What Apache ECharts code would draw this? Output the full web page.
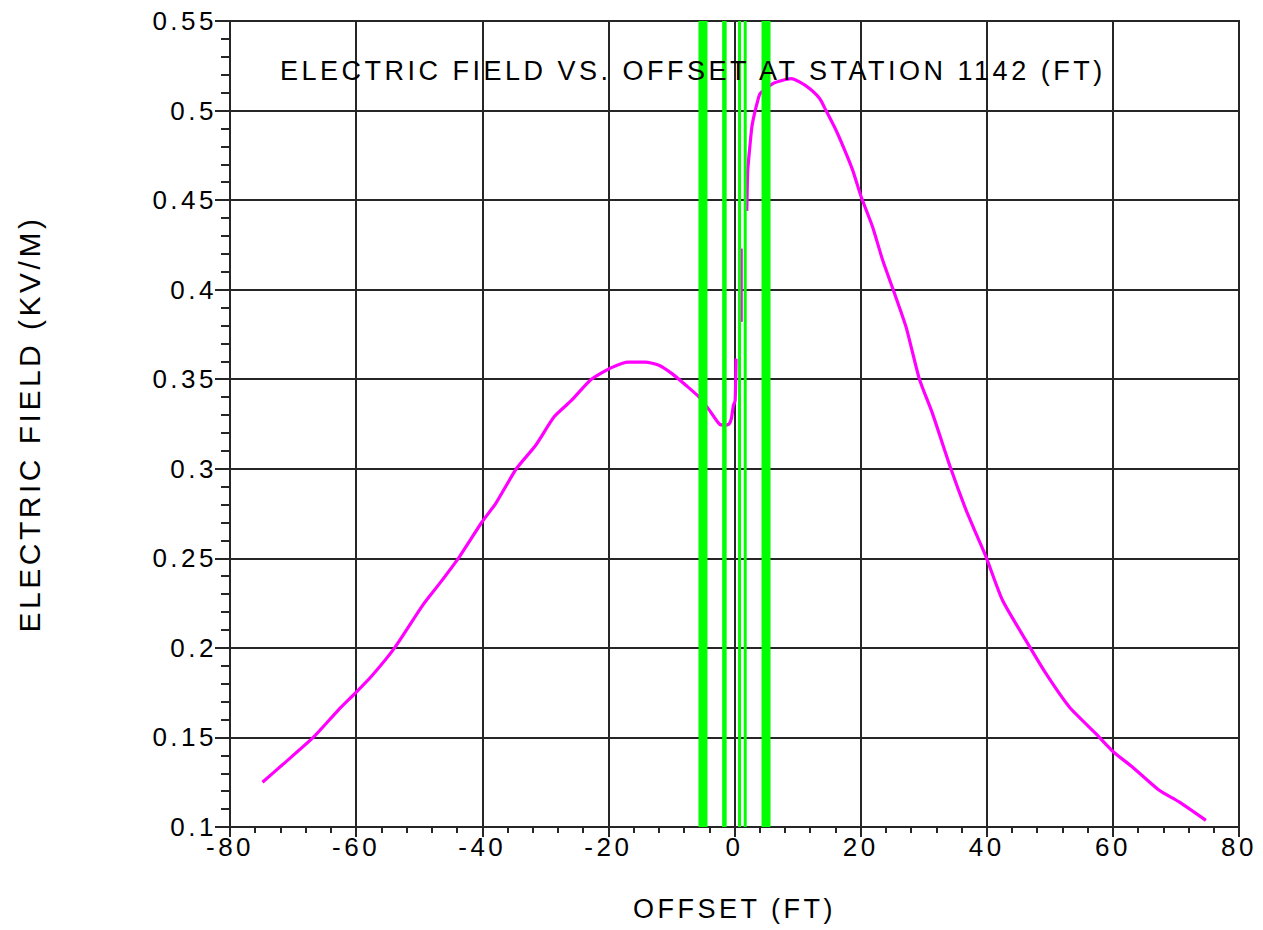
<!DOCTYPE html>
<html>
<head>
<meta charset="utf-8">
<style>
html,body{margin:0;padding:0;background:#fff;}
#chart{width:1263px;height:930px;}
#chart text{letter-spacing:3.5px;}
</style>
<script src="https://cdn.jsdelivr.net/npm/echarts@6/dist/echarts.min.js"></script>
</head>
<body>
<div id="chart"></div>
<script>
// ---- data ----
const titleText = 'ELECTRIC FIELD VS. OFFSET AT STATION 1142 (FT)';
const xAxisTitle = 'OFFSET (FT)';
const yAxisTitle = 'ELECTRIC FIELD (KV/M)';
const xTickValues = [-80, -60, -40, -20, 0, 20, 40, 60, 80];
const yTickValues = [0.1, 0.15, 0.2, 0.25, 0.3, 0.35, 0.4, 0.45, 0.5, 0.55];

// electric field (kV/m) vs offset (ft); gaps near the centre
const fieldLeft = [
  [-74.85, 0.125], [-71.6, 0.135], [-66.8, 0.150], [-62.9, 0.165], [-60.06, 0.175],
  [-57.6, 0.184], [-53.9, 0.200], [-49.4, 0.224], [-46.75, 0.236], [-43.6, 0.251],
  [-40.1, 0.270], [-37.8, 0.281], [-34.6, 0.300], [-31.55, 0.313], [-28.6, 0.329],
  [-25.9, 0.338], [-22.7, 0.350], [-19.5, 0.3565], [-16.8, 0.3596], [-14.15, 0.3596],
  [-12.0, 0.3578], [-9.86, 0.353], [-7.7, 0.3466], [-5.6, 0.340], [-3.96, 0.3326],
  [-2.4, 0.325], [-1.55, 0.3243], [-0.86, 0.325], [-0.5, 0.328], [-0.16, 0.3355],
  [0.1, 0.338], [0.25, 0.3615]
];
const fieldMid = [[1.06, 0.382], [1.06, 0.423]];
const fieldRight = [
  [1.95, 0.444], [2.1, 0.4666], [2.38, 0.4778], [2.75, 0.4908], [3.17, 0.4983],
  [3.7, 0.5057], [4.07, 0.5095], [6.07, 0.515], [7.65, 0.5169], [8.98, 0.5178],
  [10.3, 0.516], [11.9, 0.5123], [13.5, 0.5067], [14.5, 0.5001], [16.1, 0.489],
  [17.7, 0.476], [18.75, 0.4666], [20.1, 0.4517], [21.9, 0.435], [23.5, 0.4164],
  [25.1, 0.4006], [27.2, 0.3792], [29.3, 0.3503], [31.4, 0.3308], [34.3, 0.3001],
  [36.6, 0.278], [38.3, 0.2638], [39.9, 0.2507], [42.5, 0.2266], [46.2, 0.2042],
  [49.4, 0.1856], [53.1, 0.167], [57.3, 0.1521], [60.1, 0.1419], [63.1, 0.1335],
  [67.35, 0.1205], [70.5, 0.114], [74.75, 0.1037]
];
// conductor offsets (ft)
const conductorsOuter = [-5, 5];
const conductorsInner = [-1.6, 0.8, 1.7];

// ---- chart ----
const FONT = 'Liberation Sans, Arial, sans-serif';
const INK = '#000';
const GRID = '#262626';
const yMin = yTickValues[0], yMax = yTickValues[yTickValues.length - 1];

function magenta(data, smooth) {
  return {
    type: 'line', data: data, showSymbol: false, symbol: 'none', silent: true,
    smooth: smooth,
    lineStyle: { color: '#ff00ff', width: 3.2 }, z: 2, animation: false
  };
}
function green(x, w) {
  return {
    type: 'line', data: [[x, yMin], [x, yMax]], showSymbol: false, symbol: 'none', silent: true,
    lineStyle: { color: '#00ff00', width: w, cap: 'butt' }, z: 3, animation: false
  };
}

const series = [magenta(fieldLeft, 0.2), magenta(fieldMid, false), magenta(fieldRight, 0.2)];
conductorsOuter.forEach(x => series.push(green(x, 9)));
conductorsInner.forEach((x, i) => series.push(green(x, i === 0 ? 4.5 : 3)));

const axisCommon = {
  type: 'value',
  axisLine: { show: true, onZero: false, lineStyle: { color: GRID, width: 2 } },
  splitLine: { show: true, lineStyle: { color: GRID, width: 2 } },
  axisLabel: { fontSize: 26, fontFamily: FONT, color: INK },
  nameLocation: 'middle',
  nameTextStyle: { fontFamily: FONT, color: INK }
};

const chart = echarts.init(document.getElementById('chart'), null, { renderer: 'svg' });
chart.setOption({
  animation: false,
  backgroundColor: '#fff',
  title: {
    text: titleText, left: 280, top: 57, padding: 0,
    textStyle: { fontFamily: FONT, fontSize: 27, fontWeight: 'normal', color: INK }
  },
  grid: { left: 230, top: 21, width: 1009, height: 806, show: true, borderColor: GRID, borderWidth: 2 },
  xAxis: Object.assign({}, axisCommon, {
    min: xTickValues[0], max: xTickValues[xTickValues.length - 1],
    interval: xTickValues[1] - xTickValues[0],
    axisTick: { show: true, length: 10, lineStyle: { color: GRID, width: 2 } },
    minorTick: { show: true, splitNumber: 5, length: 6, lineStyle: { color: GRID, width: 2 } },
    axisLabel: Object.assign({}, axisCommon.axisLabel, { margin: 7 }),
    name: xAxisTitle, nameGap: 68,
    nameTextStyle: Object.assign({}, axisCommon.nameTextStyle, { fontSize: 27 })
  }),
  yAxis: Object.assign({}, axisCommon, {
    min: yMin, max: yMax, interval: 0.05,
    axisTick: { show: true, length: 15, lineStyle: { color: GRID, width: 2 } },
    minorTick: { show: true, splitNumber: 5, length: 9, lineStyle: { color: GRID, width: 2 } },
    axisLabel: Object.assign({}, axisCommon.axisLabel, { margin: 13, formatter: v => String(+v.toFixed(2)) }),
    name: yAxisTitle, nameGap: 186, nameRotate: 90,
    nameTextStyle: Object.assign({}, axisCommon.nameTextStyle, { fontSize: 30 })
  }),
  series: series
});
</script>
</body>
</html>
